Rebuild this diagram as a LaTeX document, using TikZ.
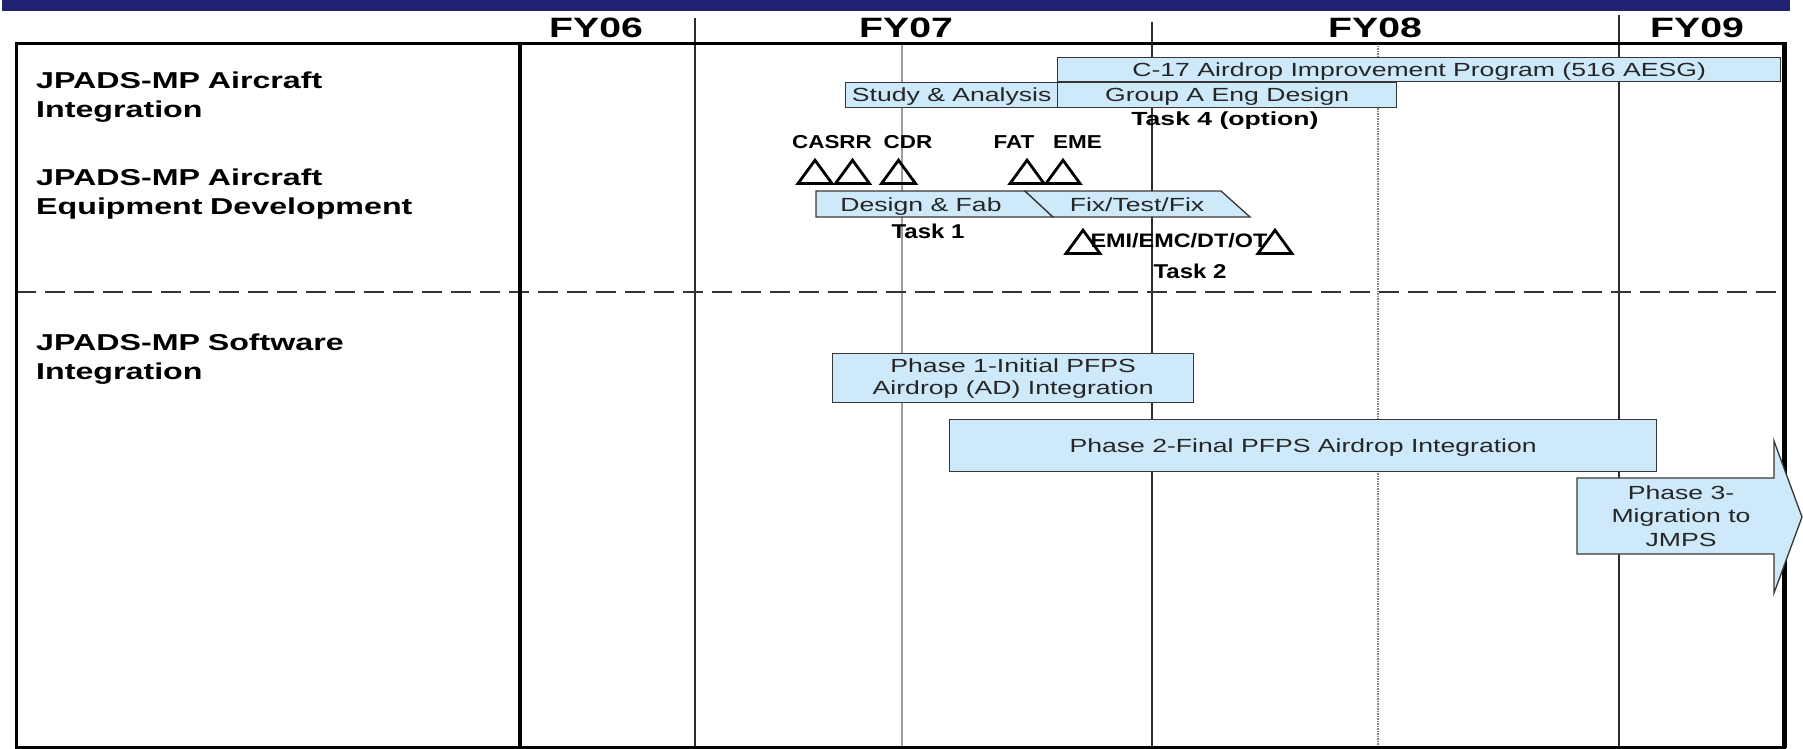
\documentclass[tikz,border=0pt]{standalone}
\usepackage{fontspec}
\setmainfont{Liberation Sans}
\newfontfamily\wfont[FakeStretch=1.4]{Liberation Sans}
\newfontfamily\mfont[FakeStretch=1.2]{Liberation Sans}
\definecolor{navy}{RGB}{32,33,112}
\definecolor{lblue}{RGB}{205,233,250}
\definecolor{gridd}{RGB}{45,45,45}
\definecolor{barline}{RGB}{55,55,55}
\begin{document}
\begin{tikzpicture}[x=1pt,y=-1pt,
  bar/.style={draw=barline, line width=1.3pt, fill=lblue, inner sep=0pt, anchor=north west,
    align=center, text=black!85, font=\wfont\fontsize{19}{22}\selectfont},
  oneline/.style={text height=13.5pt, text depth=0pt},
  btext/.style={inner sep=0pt, anchor=base, text=black!85, font=\wfont\fontsize{19}{22}\selectfont},
  lab/.style={anchor=base west, inner sep=0pt, align=left, text width=470pt,
    font=\wfont\bfseries\fontsize{23}{29}\selectfont},
  fy/.style={anchor=base, inner sep=0pt, font=\wfont\bfseries\fontsize{28}{30}\selectfont},
  ms/.style={anchor=base, inner sep=0pt, font=\mfont\bfseries\fontsize{18.7}{22}\selectfont},
  task/.style={anchor=base, inner sep=0pt, font=\mfont\bfseries\fontsize{20}{22}\selectfont},
  tri/.style={draw=black, line width=2.8pt, line join=miter},
  darkline/.style={draw=gridd, line width=1.5pt},
  grayline/.style={draw=black!38, line width=1.5pt},
  dotline/.style={draw=black!50, line width=1.2pt, dash pattern=on 1.5pt off 1pt},
  sepline/.style={draw=black!80, line width=2pt, dash pattern=on 20pt off 9pt},
  mstone/.pic={\draw[tri] (-17,0) -- (0,-23.3) -- (17,0) -- cycle;}
]
\useasboundingbox (0,0) rectangle (1803,748);

% top navy bar
\fill[navy] (2,0) rectangle (1790,10.5);

% grid lines
\draw[darkline] (695,18) -- (695,748);
\draw[darkline] (1152,22) -- (1152,748);
\draw[darkline] (1619,15) -- (1619,748);
\draw[grayline] (902,43) -- (902,748);
\draw[dotline] (1378,43) -- (1378,748);

% dashed separator
\draw[sepline] (16,292) -- (1784,292);

% frame
\draw[line width=3.5pt] (16.5,43.5) rectangle (1784.5,748);
\draw[line width=4.5pt] (520,43.5) -- (520,748);
\draw[line width=5pt] (1784.5,42) -- (1784.5,748);

% header
\node[fy] (fy06) at (596,37) {FY06};
\node[fy] (fy07) at (906,37) {FY07};
\node[fy] (fy08) at (1375,37) {FY08};
\node[fy] (fy09) at (1697,37) {FY09};

% row labels
\node[lab] (l1) at (36,88) {JPADS-MP Aircraft\\Integration};
\node[lab] (l2) at (36,185) {JPADS-MP Aircraft\\Equipment Development};
\node[lab] (l3) at (36,350) {JPADS-MP Software\\Integration};

% aircraft integration bars
\node[bar, oneline, minimum width=723pt, minimum height=24pt] (c17) at (1057,57)
  {C-17 Airdrop Improvement Program (516 AESG)};
\node[bar, oneline, minimum width=212pt, minimum height=25pt] (study) at (845,82)
  {Study \& Analysis};
\node[bar, oneline, minimum width=339pt, minimum height=25pt] (groupa) at (1057,82)
  {Group A Eng Design};
\node[anchor=base, inner sep=0pt, font=\wfont\bfseries\fontsize{19}{22}\selectfont]
  (task4) at (1225,125) {Task 4 (option)};

% milestones
\node[ms] (casrr) at (832,148) {CASRR};
\node[ms] (cdr) at (908,148) {CDR};
\node[ms] (fat) at (1014,148) {FAT};
\node[ms] (eme) at (1077.5,148) {EME};
\pic at (815,183.5) {mstone};
\pic at (852.5,183.5) {mstone};
\pic at (898.5,183.5) {mstone};
\pic at (1027,183.5) {mstone};
\pic at (1063,183.5) {mstone};

% design & fab / fix-test-fix
\draw[draw=barline, line width=1.3pt, fill=lblue] (816,191) -- (1025,191) -- (1053,217) -- (816,217) -- cycle;
\draw[draw=barline, line width=1.3pt, fill=lblue] (1025,191) -- (1221,191) -- (1250,217) -- (1053,217) -- cycle;
\node[btext] (dfab) at (921,211) {Design \& Fab};
\node[btext] (ftf) at (1137,211) {Fix/Test/Fix};
\node[task] (task1) at (928,238) {Task 1};

% EMI/EMC/DT/OT
\pic at (1083,253.5) {mstone};
\pic at (1275,253.5) {mstone};
\node[anchor=base, inner sep=0pt, font=\mfont\bfseries\fontsize{19.5}{22}\selectfont]
  (emi) at (1179,247) {EMI/EMC/DT/OT};
\node[task] (task2) at (1190,278) {Task 2};

% software integration
\node[bar, minimum width=361pt, minimum height=49pt] (ph1) at (832,353)
  {Phase 1-Initial PFPS\\Airdrop (AD) Integration};
\node[bar, oneline, minimum width=707pt, minimum height=52pt] (ph2) at (949,419)
  {Phase 2-Final PFPS Airdrop Integration};
\draw[draw=barline, line width=1.3pt, fill=lblue, line join=miter]
  (1577,478) -- (1774,478) -- (1774,441) -- (1802,517) -- (1774,593) -- (1774,554) -- (1577,554) -- cycle;
\node[inner sep=0pt, align=center, text=black!85, font=\wfont\fontsize{19}{23.5}\selectfont]
  (ph3) at (1681,516) {Phase 3-\\Migration to\\JMPS};
\end{tikzpicture}
\end{document}
